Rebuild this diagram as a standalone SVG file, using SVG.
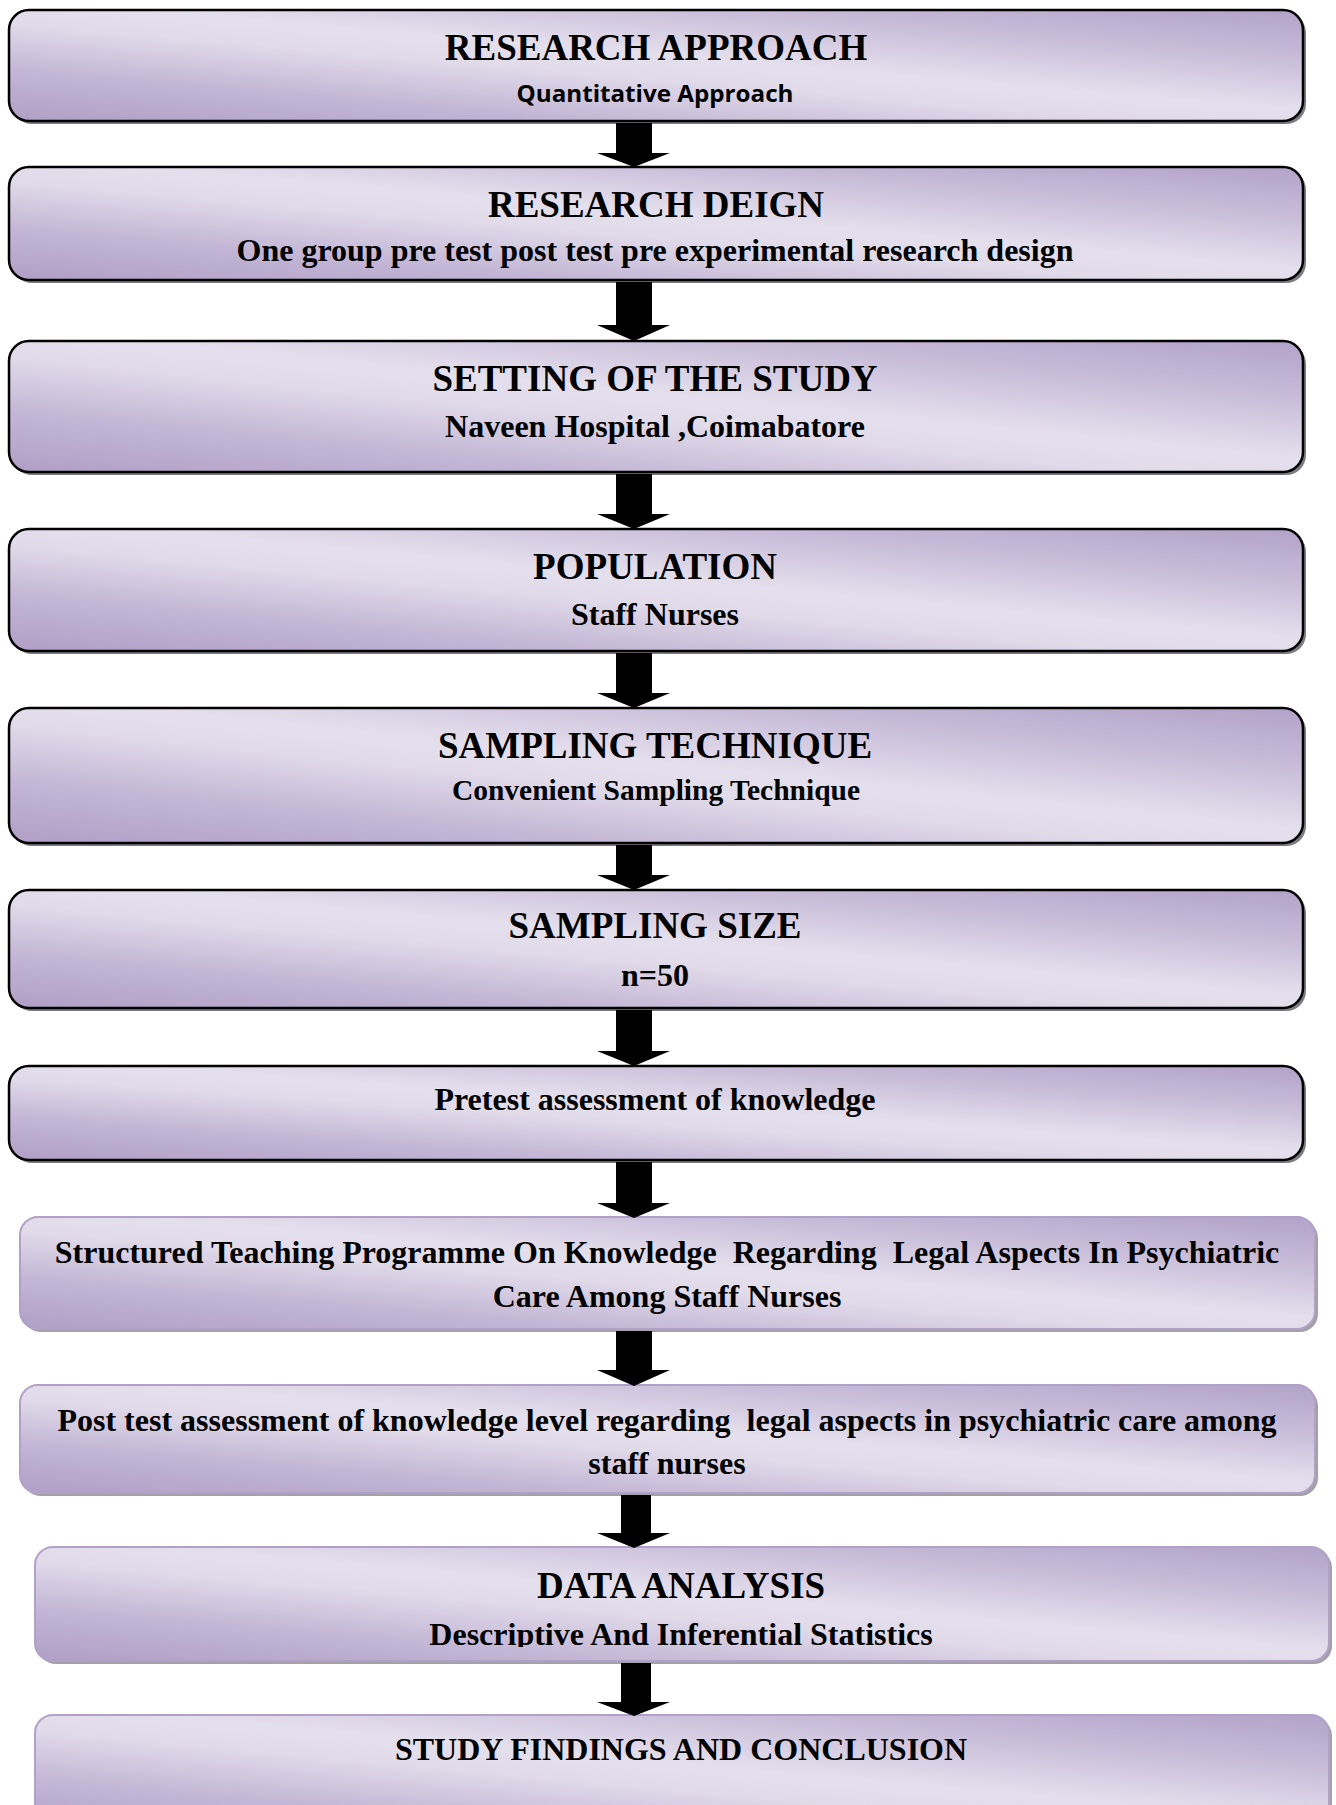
<svg xmlns="http://www.w3.org/2000/svg" width="1336" height="1805" viewBox="0 0 1336 1805">
<defs>
<linearGradient id="g" x1="0" y1="1" x2="1" y2="0">
<stop offset="0" stop-color="#b09fc6"/>
<stop offset="0.22" stop-color="#c2b5d5"/>
<stop offset="0.45" stop-color="#e2dcea"/>
<stop offset="0.55" stop-color="#e4dfec"/>
<stop offset="0.78" stop-color="#c8bcd9"/>
<stop offset="1" stop-color="#b2a2c8"/>
</linearGradient>
<clipPath id="clipDA"><rect x="35" y="1547" width="1294" height="100"/></clipPath>
<style>
.box{fill:url(#g);stroke:#000;stroke-width:2.5}
.box2{fill:url(#g);stroke:#b1a1c8;stroke-width:2}
.sh{fill:#7c7b80}
.sh2{fill:#a3a0aa}
.t{font-family:"Liberation Serif","Times New Roman",serif;font-weight:bold;fill:#000;text-anchor:middle}
.h{font-size:37px}
.s{font-size:32px}
.sans{font-family:"Open Sans","Liberation Sans",Arial,sans-serif;font-weight:bold;font-size:24px;fill:#000;text-anchor:middle}
.arr{fill:#000}
</style>
</defs>

<g id="node-research-approach">
<rect class="sh" x="12" y="13" width="1294" height="111" rx="20"/>
<rect class="box" x="9" y="10" width="1294" height="111" rx="20"/>
<text class="t h" x="656" y="60">RESEARCH APPROACH</text>
<text class="sans" x="655" y="102" textLength="277" lengthAdjust="spacingAndGlyphs">Quantitative Approach</text>
</g>

<g id="node-research-design">
<rect class="sh" x="12" y="170" width="1294" height="113" rx="20"/>
<rect class="box" x="9" y="167" width="1294" height="113" rx="20"/>
<text class="t h" x="656" y="217">RESEARCH DEIGN</text>
<text class="t s" x="655" y="261">One group pre test post test pre experimental research design</text>
</g>

<g id="node-setting">
<rect class="sh" x="12" y="344" width="1294" height="131" rx="20"/>
<rect class="box" x="9" y="341" width="1294" height="131" rx="20"/>
<text class="t h" x="655" y="391">SETTING OF THE STUDY</text>
<text class="t s" x="655" y="437">Naveen Hospital ,Coimabatore</text>
</g>

<g id="node-population">
<rect class="sh" x="12" y="532" width="1294" height="122" rx="20"/>
<rect class="box" x="9" y="529" width="1294" height="122" rx="20"/>
<text class="t h" x="655" y="579">POPULATION</text>
<text class="t s" x="655" y="625">Staff Nurses</text>
</g>

<g id="node-sampling-technique">
<rect class="sh" x="12" y="711" width="1294" height="135" rx="20"/>
<rect class="box" x="9" y="708" width="1294" height="135" rx="20"/>
<text class="t h" x="655" y="758">SAMPLING TECHNIQUE</text>
<text class="t" x="656" y="800" font-size="29.5">Convenient Sampling Technique</text>
</g>

<g id="node-sampling-size">
<rect class="sh" x="12" y="893" width="1294" height="118" rx="20"/>
<rect class="box" x="9" y="890" width="1294" height="118" rx="20"/>
<text class="t h" x="655" y="938">SAMPLING SIZE</text>
<text class="t s" x="655" y="986">n=50</text>
</g>

<g id="node-pretest">
<rect class="sh" x="12" y="1069" width="1294" height="94" rx="20"/>
<rect class="box" x="9" y="1066" width="1294" height="94" rx="20"/>
<text class="t s" x="655" y="1110">Pretest assessment of knowledge</text>
</g>

<g id="node-structured-teaching">
<rect class="sh2" x="23" y="1220" width="1295" height="112" rx="18"/>
<rect class="box2" x="20" y="1217" width="1295" height="112" rx="18"/>
<text class="t s" x="667" y="1263" xml:space="preserve">Structured Teaching Programme On Knowledge  Regarding  Legal Aspects In Psychiatric</text>
<text class="t s" x="667" y="1307">Care Among Staff Nurses</text>
</g>

<g id="node-posttest">
<rect class="sh2" x="23" y="1388" width="1295" height="108" rx="18"/>
<rect class="box2" x="20" y="1385" width="1295" height="108" rx="18"/>
<text class="t s" x="667" y="1431" xml:space="preserve">Post test assessment of knowledge level regarding  legal aspects in psychiatric care among</text>
<text class="t s" x="667" y="1474">staff nurses</text>
</g>

<g id="node-data-analysis">
<rect class="sh2" x="38" y="1550" width="1294" height="114" rx="18"/>
<rect class="box2" x="35" y="1547" width="1294" height="114" rx="18"/>
<text class="t h" x="681" y="1598">DATA ANALYSIS</text>
<text class="t s" x="681" y="1645" clip-path="url(#clipDA)">Descriptive And Inferential Statistics</text>
</g>

<g id="node-findings">
<rect class="sh2" x="38" y="1718" width="1294" height="120" rx="18"/>
<rect class="box2" x="35" y="1715" width="1294" height="120" rx="18"/>
<text class="t s" x="681" y="1760">STUDY FINDINGS AND CONCLUSION</text>
</g>

<g id="connectors">
<polygon class="arr" points="616,123 652,123 652,153 670,153 634,167 597,153 616,153"/>
<polygon class="arr" points="616,282 652,282 652,325 670,325 634,341 597,325 616,325"/>
<polygon class="arr" points="616,474 652,474 652,514 670,514 634,529 597,514 616,514"/>
<polygon class="arr" points="616,653 652,653 652,693 670,693 634,708 597,693 616,693"/>
<polygon class="arr" points="616,845 652,845 652,875 670,875 634,890 597,875 616,875"/>
<polygon class="arr" points="616,1010 652,1010 652,1051 670,1051 634,1066 597,1051 616,1051"/>
<polygon class="arr" points="616,1162 652,1162 652,1203 670,1203 634,1218 597,1203 616,1203"/>
<polygon class="arr" points="616,1331 652,1331 652,1370 670,1370 634,1386 597,1370 616,1370"/>
<polygon class="arr" points="621,1495 651,1495 651,1533 670,1533 634,1548 597,1533 621,1533"/>
<polygon class="arr" points="621,1663 651,1663 651,1702 670,1702 634,1716 597,1702 621,1702"/>
</g>
</svg>
